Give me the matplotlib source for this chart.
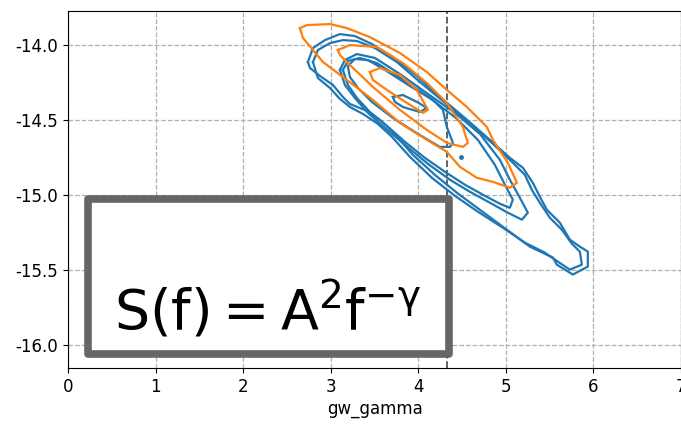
import matplotlib
matplotlib.use("Agg")
import matplotlib.pyplot as plt
from matplotlib.patches import Rectangle

plt.rcParams['axes.unicode_minus'] = False

# contour lines (gw_gamma, log10_A) for the two runs
blue_outer_a = [(2.740, -14.113), (2.797, -14.020), (2.934, -13.967), (3.105, -13.927), (3.276, -13.940),
                (3.470, -13.993), (3.710, -14.080), (3.984, -14.206), (4.247, -14.346), (4.532, -14.486),
                (4.817, -14.632), (5.046, -14.752), (5.194, -14.818), (5.308, -14.918), (5.388, -15.011),
                (5.468, -15.098), (5.616, -15.184), (5.731, -15.297), (5.845, -15.344), (5.936, -15.377),
                (5.936, -15.477), (5.765, -15.530), (5.582, -15.464), (5.537, -15.417), (5.274, -15.344),
                (5.011, -15.231), (4.703, -15.098), (4.441, -14.985), (4.189, -14.865), (3.938, -14.732),
                (3.710, -14.579), (3.562, -14.499), (3.413, -14.439), (3.219, -14.393), (3.139, -14.346),
                (3.025, -14.266), (2.877, -14.206), (2.763, -14.153)]
blue_outer_b = [(2.797, -14.113), (2.854, -14.033), (2.991, -13.987), (3.139, -13.967), (3.299, -13.973),
                (3.505, -14.020), (3.756, -14.113), (4.018, -14.246), (4.281, -14.373), (4.566, -14.512),
                (4.840, -14.652), (5.068, -14.778), (5.217, -14.865), (5.297, -14.965), (5.388, -15.051),
                (5.502, -15.151), (5.639, -15.231), (5.753, -15.324), (5.845, -15.377), (5.868, -15.464),
                (5.731, -15.497), (5.594, -15.444), (5.445, -15.384), (5.217, -15.317), (4.966, -15.218),
                (4.680, -15.111), (4.418, -15.005), (4.155, -14.885), (3.904, -14.745), (3.699, -14.612),
                (3.539, -14.526), (3.368, -14.459), (3.219, -14.413), (3.105, -14.359), (2.991, -14.286),
                (2.854, -14.220)]
blue_mid_a = [(3.139, -14.166), (3.196, -14.106), (3.333, -14.086), (3.527, -14.120), (3.813, -14.226),
              (4.132, -14.353), (4.429, -14.486), (4.680, -14.632), (4.874, -14.798), (4.989, -14.931),
              (5.080, -15.031), (5.046, -15.085), (4.932, -15.058), (4.760, -15.005), (4.532, -14.931),
              (4.304, -14.845), (4.075, -14.752), (3.847, -14.645), (3.642, -14.539), (3.447, -14.446),
              (3.299, -14.353), (3.196, -14.266)]
blue_mid_b = [(3.105, -14.166), (3.162, -14.100), (3.299, -14.060), (3.505, -14.086), (3.790, -14.193),
              (4.110, -14.326), (4.418, -14.452), (4.703, -14.592), (4.932, -14.765), (5.046, -14.898),
              (5.160, -15.018), (5.251, -15.118), (5.183, -15.164), (5.023, -15.118), (4.817, -15.051),
              (4.589, -14.978), (4.361, -14.898), (4.110, -14.792), (3.847, -14.665), (3.619, -14.552),
              (3.425, -14.452), (3.276, -14.353), (3.162, -14.266)]
blue_inner = [(3.196, -14.140), (3.276, -14.093), (3.425, -14.100), (3.619, -14.166), (3.904, -14.273),
              (4.167, -14.366), (4.281, -14.432), (4.326, -14.546), (4.395, -14.652), (4.361, -14.679),
              (4.247, -14.679), (3.995, -14.592), (3.710, -14.486), (3.470, -14.379), (3.311, -14.286),
              (3.219, -14.213)]
blue_core = [(3.710, -14.346), (3.824, -14.333), (3.984, -14.379), (4.098, -14.419), (4.018, -14.446),
             (3.824, -14.413), (3.733, -14.379)]
blue_spot = (4.486, -14.745)

orange_outer = [(2.648, -13.887), (2.728, -13.867), (2.991, -13.860), (3.185, -13.887), (3.447, -13.947),
                (3.790, -14.053), (4.098, -14.180), (4.326, -14.299), (4.555, -14.413), (4.783, -14.546),
                (4.852, -14.632), (5.023, -14.785), (5.126, -14.918), (5.046, -14.951), (4.852, -14.912),
                (4.669, -14.885), (4.475, -14.812), (4.326, -14.712), (4.098, -14.632), (3.790, -14.519),
                (3.482, -14.366), (3.185, -14.233), (2.911, -14.113), (2.797, -14.033), (2.683, -13.953)]
orange_mid = [(3.082, -14.033), (3.219, -14.000), (3.527, -14.013), (3.824, -14.120), (4.098, -14.253),
              (4.326, -14.386), (4.509, -14.546), (4.566, -14.652), (4.509, -14.679), (4.326, -14.652),
              (4.098, -14.566), (3.790, -14.432), (3.482, -14.279), (3.219, -14.133), (3.105, -14.067)]
orange_inner = [(3.447, -14.180), (3.562, -14.153), (3.790, -14.200), (3.984, -14.299), (4.110, -14.432),
                (4.053, -14.452), (3.870, -14.386), (3.642, -14.299), (3.482, -14.233)]

gamma_ref = 13 / 3
x_ticks = [0, 1, 2, 3, 4, 5, 6, 7]
y_ticks = [-14.0, -14.5, -15.0, -15.5, -16.0]

BLUE = '#1f77b4'
ORANGE = '#ff7f0e'


def closed(pts):
    xs = [p[0] for p in pts] + [pts[0][0]]
    ys = [p[1] for p in pts] + [pts[0][1]]
    return xs, ys


fig = plt.figure(figsize=(6.81, 4.24), dpi=100)
ax = fig.add_axes([68 / 681, 56 / 424, 613 / 681, 357 / 424])

for c in [blue_outer_a, blue_outer_b, blue_mid_a, blue_mid_b, blue_inner, blue_core]:
    ax.plot(*closed(c), color=BLUE, lw=1.6, zorder=3)
ax.plot(blue_spot[0], blue_spot[1], 'o', color=BLUE, ms=2.5, zorder=3)
for c in [orange_outer, orange_mid, orange_inner]:
    ax.plot(*closed(c), color=ORANGE, lw=1.6, zorder=4)

ax.axvline(gamma_ref, color='#555555', ls='--', lw=1.3, zorder=2)

ax.set_xlim(0, 7)
ax.set_ylim(-16.153, -13.773)
ax.set_xticks(x_ticks)
ax.set_yticks(y_ticks)
ax.set_yticklabels([f'{v:.1f}' for v in y_ticks])
ax.grid(True, ls='--', color='#b0b0b0', lw=0.9)
ax.set_axisbelow(True)
ax.set_xlabel('gw_gamma', fontsize=12, labelpad=3)
ax.tick_params(labelsize=12)

# formula box
box = Rectangle((0.223, -16.063), 4.349 - 0.223, -15.025 - (-16.063),
                facecolor='white', edgecolor='#666666', lw=5.5, joinstyle='round', zorder=5)
ax.add_patch(box)
ax.text(0.52, -15.9, r'$\mathregular{S(f)=A^{2}f^{-\gamma}}$', fontsize=40, ha='left',
        va='baseline', color='black', zorder=6)

fig.savefig('out.png', dpi=100)
